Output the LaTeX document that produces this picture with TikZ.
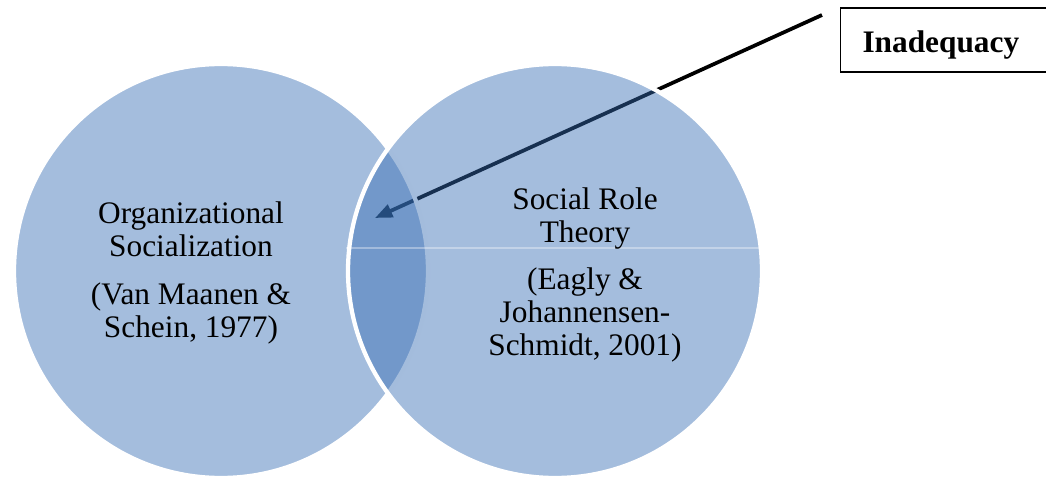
\documentclass[tikz,border=0pt]{standalone}
\usepackage{fontspec}
\setmainfont{Liberation Serif}
\usepackage{xcolor}
\usepackage{tikz}
\usetikzlibrary{arrows.meta,positioning,shapes}

\definecolor{vennblue}{RGB}{53,108,179}

\begin{document}
\begin{tikzpicture}[x=0.75pt,y=-0.75pt]
            \tikzstyle{venn} = [circle, minimum size=310.5pt, inner sep=0pt, fill=vennblue, fill opacity=0.45, draw=white, line width=3.2pt]
            \tikzstyle{venntext} = [align=center, font=\fontsize{23.5pt}{24.75pt}\selectfont]
            \tikzstyle{pointer} = [-{Triangle[length=13pt,width=10pt]}, line width=2.8pt]
            \tikzstyle{labelbox} = [draw, line width=0.8pt, anchor=west, align=left, text width=130pt, inner xsep=16.5pt, inner ysep=2pt, minimum height=48pt, text height=25.5pt, text depth=6pt, font=\fontsize{23.5pt}{24.75pt}\selectfont\bfseries]

            \useasboundingbox (0,0) rectangle (1046,478);

            % arrow sits under the circles
            \coordinate (tail) at (822,15);
            \coordinate (tip) at (375,218);
            \draw [pointer] (tail) -- (tip);

            \node [venn] (org) at (221,271) {};
            \node [venn] (srt) at (555,271) {};
            \draw [white, opacity=0.35, line width=0.8pt] ([yshift=17.25pt]srt.west) -- ([yshift=17.25pt]srt.east);

            \node [venntext] (orgtext) at (191,273) {Organizational\\Socialization\\[11pt](Van Maanen \&\\Schein, 1977)};
            \node [venntext] (srttext) at (585,275) {Social Role\\Theory\\[11pt](Eagly \&\\Johannensen-\\Schmidt, 2001)};

            \node [labelbox] (gap) at (840,40) {Inadequacy};
\end{tikzpicture}
\end{document}
